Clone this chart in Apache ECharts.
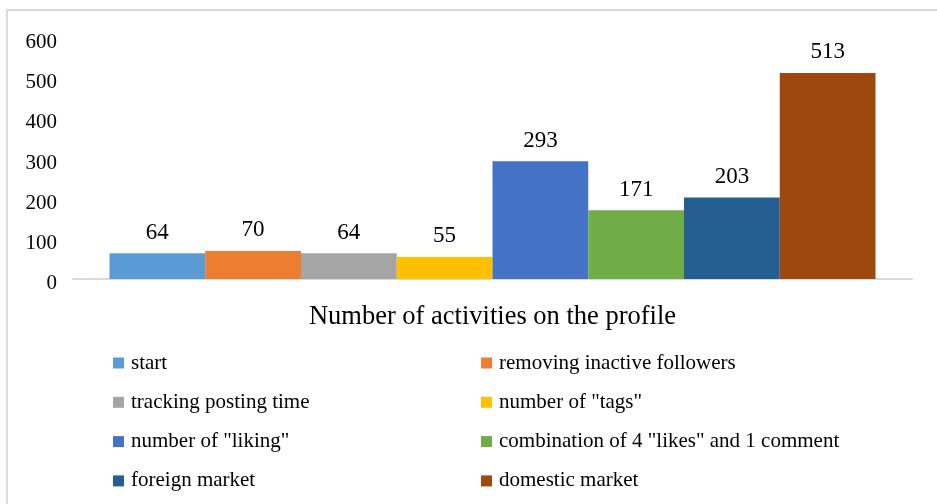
<!DOCTYPE html>
<html>
<head>
<meta charset="utf-8">
<script src="https://cdn.jsdelivr.net/npm/echarts@6/dist/echarts.min.js"></script>
<style>
  html, body { margin: 0; padding: 0; background: #fff; }
  #chart { width: 937px; height: 504px; }
</style>
</head>
<body>
<div id="chart"></div>
<script>
// data
const category = ['Number of activities on the profile']
const seriesNames = [
    'start',
    'removing inactive followers',
    'tracking posting time',
    'number of "tags"',
    'number of "liking"',
    'combination of 4 "likes" and 1 comment',
    'foreign market',
    'domestic market'
]
const seriesValues = [64, 70, 64, 55, 293, 171, 203, 513]
const colors = ['#5B9BD5', '#ED7D31', '#A5A5A5', '#FFC000', '#4472C4', '#70AD47', '#255E91', '#9E480E']
const yTicks = { min: 0, max: 600, interval: 100 }

const font = '"Liberation Serif", "Times New Roman", serif'
const chart = echarts.init(document.getElementById('chart'))

let series = seriesNames.map((name, i) => ({
    name: name,
    type: 'bar',
    data: [seriesValues[i]],
    itemStyle: { color: colors[i] },
    barGap: '0%',
    barCategoryGap: '8.7%',
    label: {
        show: true,
        position: 'top',
        distance: 9,
        color: '#000',
        fontFamily: font,
        fontSize: 23
    }
}))

// legend in two columns, like the original
const leftCol = seriesNames.filter((n, i) => i % 2 === 0)
const rightCol = seriesNames.filter((n, i) => i % 2 === 1)
const legendBase = {
    orient: 'vertical',
    top: 348,
    height: 156,
    padding: 0,
    icon: 'rect',
    itemWidth: 11,
    itemHeight: 11,
    itemGap: 9.3,
    textStyle: {
        fontFamily: font,
        fontSize: 21,
        color: '#000',
        lineHeight: 22,
        padding: [8, 0, 0, 2]
    }
}

let option = {
    animation: false,
    graphic: [
        {
            type: 'rect',
            shape: { x: 7, y: 10, width: 940, height: 510 },
            style: { fill: 'none', stroke: '#d9d9d9', lineWidth: 2 },
            silent: true
        }
    ],
    grid: { left: 73, right: 25, top: 38, bottom: 225 },
    legend: [
        Object.assign({ left: 113, data: leftCol }, legendBase),
        Object.assign({ left: 481, data: rightCol }, legendBase)
    ],
    xAxis: {
        type: 'category',
        data: category,
        axisLine: { lineStyle: { color: '#d9d9d9', width: 2 } },
        axisTick: { show: false },
        axisLabel: {
            margin: 25,
            color: '#000',
            fontFamily: font,
            fontSize: 26.5
        }
    },
    yAxis: {
        type: 'value',
        min: yTicks.min,
        max: yTicks.max,
        interval: yTicks.interval,
        splitLine: { show: false },
        axisLine: { show: false },
        axisTick: { show: false },
        axisLabel: {
            margin: 16,
            color: '#000',
            fontFamily: font,
            fontSize: 21,
            verticalAlign: 'top',
            lineHeight: 9
        }
    },
    series: series
}
chart.setOption(option)
</script>
</body>
</html>
